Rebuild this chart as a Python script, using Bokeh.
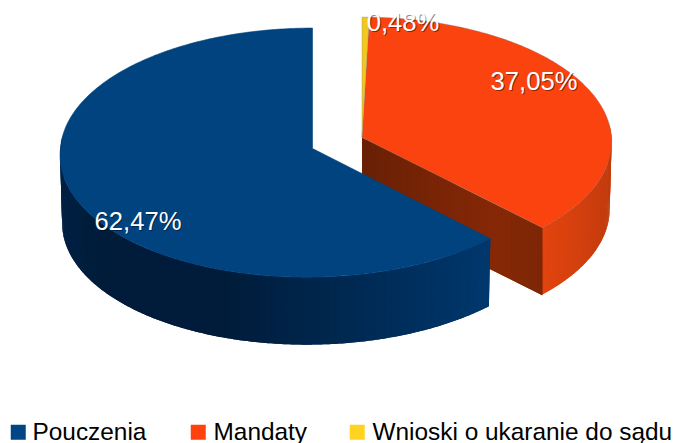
import numpy as np
from bokeh.plotting import figure
from bokeh.models import Range1d
from bokeh.core.properties import value
from bokeh.embed import file_html
from bokeh.resources import INLINE

categories = ["Pouczenia", "Mandaty", "Wnioski o ukaranie do sądu"]
shares = [62.47, 37.05, 0.48]
colors = ["#004586", "#ff420e", "#ffd320"]
shown = ["#00437f", "#fb430f", "#f2c81f"]

FONT = value("Liberation Sans")
RY, K, DEPTH, SHRINK = 124.4, 0.033, 67.5, 0.992
BLUE_C = (312.0, 148.0)
ORANGE_C = (361.5, 137.0)
BLUE_RX, ORANGE_RX = 252.0, 249.5
BLUE_FRONT_SHIFT = 6.0


def rim(c, theta, low=False):
    blue = c is BLUE_C
    rx = BLUE_RX if blue else ORANGE_RX
    s = 1.0 / (1.0 + K * np.cos(theta))
    sx = SHRINK if low else 1.0
    x = c[0] + rx * np.sin(theta) * s * sx
    if blue:
        x = x - BLUE_FRONT_SHIFT * np.maximum(0.0, -np.cos(theta))
    y = c[1] - RY * np.cos(theta) * s + (DEPTH if low else 0.0)
    return x, y


def mix(stops, t):
    ts = [a for a, _ in stops]
    rgb = [np.interp(t, ts, [b[i] for _, b in stops]) for i in range(3)]
    return "#%02x%02x%02x" % tuple(int(round(v)) for v in rgb)


p = figure(width=674, height=443, x_range=Range1d(0, 674), y_range=Range1d(443, 0),
           output_backend="svg", toolbar_location=None, min_border=0,
           outline_line_color=None, background_fill_color="white")
p.axis.visible = False
p.grid.visible = False

total = sum(shares)
a_blue = np.radians(shares[0] / total * 360)
a_yellow = np.radians(shares[2] / total * 360)
a_orange = np.radians(shares[1] / total * 360)


def wall(c, t0, t1, stops, n=70):
    ts = np.linspace(t0, t1, n + 1)
    xs, ys, cols = [], [], []
    for i in range(n):
        a, b = ts[i], ts[min(i + 2, n)]
        x0, y0 = rim(c, np.linspace(a, b, 5))
        x2, y2 = rim(c, np.linspace(b, a, 5), True)
        xs.append(np.r_[x0, x2])
        ys.append(np.r_[y0, y2])
        cols.append(mix(stops, (i + 0.5) / n))
    p.patches(xs, ys, fill_color=cols, line_color=None)


# orange: outer wall, cut face, top
o_end = a_yellow + a_orange
wall(ORANGE_C, np.radians(84), o_end,
     [(0, (214, 64, 14)), (0.25, (190, 58, 12)), (0.6, (205, 62, 14)), (1, (226, 68, 14))])
ex, ey = rim(ORANGE_C, o_end)
n = 40
xs, ys, cols = [], [], []
for i in range(n):
    f0, f1 = i / n, min((i + 2) / n, 1)
    ax, bx = ORANGE_C[0] + (ex - ORANGE_C[0]) * f0, ORANGE_C[0] + (ex - ORANGE_C[0]) * f1
    ay, by = ORANGE_C[1] + (ey - ORANGE_C[1]) * f0, ORANGE_C[1] + (ey - ORANGE_C[1]) * f1
    xs.append([ax, bx, bx, ax])
    ys.append([ay, by, by + DEPTH, ay + DEPTH])
    cols.append(mix([(0, (105, 32, 5)), (0.75, (134, 40, 6)), (1, (124, 38, 6))], (i + 0.5) / n))
p.patches(xs, ys, fill_color=cols, line_color=None)

t = np.linspace(a_yellow, o_end, 200)
x, y = rim(ORANGE_C, t)
p.patch(np.r_[ORANGE_C[0], x], np.r_[ORANGE_C[1], y], fill_color=shown[1],
        line_color="#8a6a60", line_alpha=0.45, line_width=0.8)
t = np.linspace(0, a_yellow, 12)
x, y = rim(ORANGE_C, t)
p.patch(np.r_[ORANGE_C[0], x], np.r_[ORANGE_C[1], y], fill_color=shown[2],
        line_color="#8a8a80", line_alpha=0.45, line_width=0.8)

# blue: outer wall, top
wall(BLUE_C, -np.radians(84), -a_blue,
     [(0, (0, 36, 74)), (0.3, (0, 28, 58)), (0.55, (0, 28, 58)), (0.8, (0, 44, 88)), (1, (0, 56, 110))], n=120)
t = np.linspace(0, -a_blue, 300)
x, y = rim(BLUE_C, t)
p.patch(np.r_[BLUE_C[0], x], np.r_[BLUE_C[1], y], fill_color=shown[0], line_color=shown[0], line_width=0.6)

# value labels
lx = [137.5, 533.5, 402.5]
ly = [220.0, 80.5, 21.5]
labels = [f"{v:.2f}".replace(".", ",") + "%" for v in shares]
common = dict(text_font=FONT, text_font_size="25.6px", text_align="center", text_baseline="middle")
p.text([a + 1 for a in lx], [b + 1 for b in ly], text=labels, text_color="#000000", text_alpha=0.45, **common)
p.text(lx, ly, text=labels, text_color="#ffffff", **common)

# legend
sq_x = [10.5, 190.5, 349.5]
tx_x = [32.0, 213.0, 372.0]
for i in range(3):
    p.quad(left=sq_x[i], right=sq_x[i] + 14.5, top=424.5, bottom=439, fill_color=colors[i],
           line_color=colors[i], line_width=0.5)
p.text(tx_x, [430.5] * 3, text=categories, text_color="#000000", text_font=FONT,
       text_font_size="24.4px", text_align="left", text_baseline="middle")

open("out.html", "w").write(file_html(p, INLINE))
